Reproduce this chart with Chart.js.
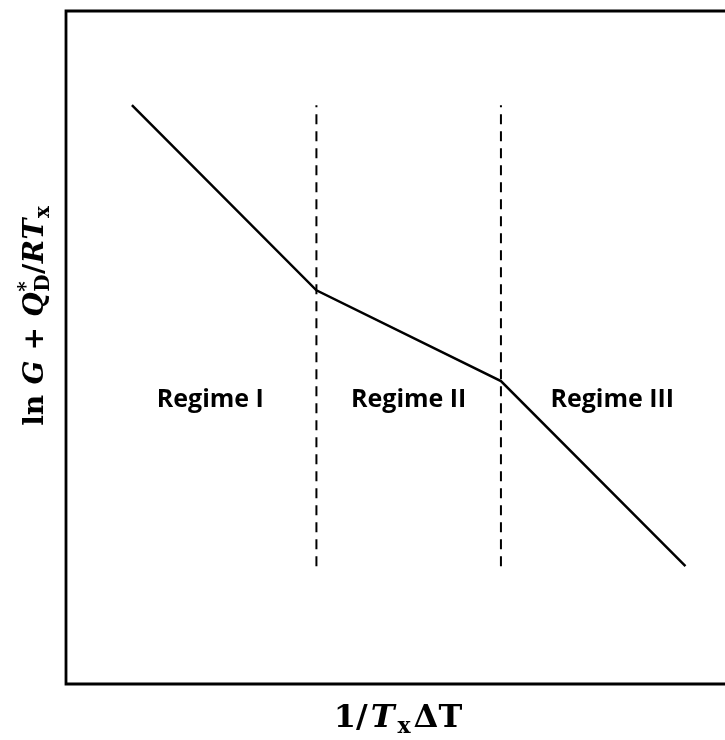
<!DOCTYPE html>
<html>
<head>
<meta charset="utf-8">
<script src="https://cdn.jsdelivr.net/npm/chart.js@4/dist/chart.umd.min.js"></script>
<style>
  html, body { margin: 0; padding: 0; background: #fff; }
  #wrap { width: 725px; height: 740px; position: relative; }
</style>
</head>
<body>
<div id="wrap"><canvas id="c" width="725" height="740"></canvas></div>
<script>
// Piecewise-linear growth curve (arbitrary units)
const curveX = [1.0, 3.8, 6.6, 9.4];
const curveY = [8.6, 5.85, 4.5, 1.75];

// Regime boundaries (dashed verticals)
const boundaryX = [3.8, 6.6];
const boundarySpan = [1.75, 8.6];

// Regime labels
const regimeNames = ['Regime I', 'Regime II', 'Regime III'];
const regimeX = [2.19, 5.2, 8.29];
const regimeY = [4.12, 4.12, 4.12];

// Axis titles, as runs of rich text: [text, italic, role]
const xTitleRuns = [['1/', false, 'n'], ['T', true, 'n'], ['x', false, 'sub'], ['\u0394T', false, 'n']];
const yTitleRuns = [['ln ', false, 'n'], ['G', true, 'n'], [' + ', false, 'n'], ['Q', true, 'n'],
                    ['*', false, 'supsub'], ['/', false, 'n'], ['R', true, 'n'], ['T', true, 'n'], ['x', false, 'sub']];
const supSubLower = 'D';

const SERIF = '"DejaVu Serif", "Liberation Serif", serif';

function fontFor(size, italic) {
  return (italic ? 'italic ' : '') + 'bold ' + size + 'px ' + SERIF;
}

// Draws a run list along the current x axis, centred on centerX, baseline y=0
function drawRuns(ctx, runs, size, centerX, gap) {
  const subSize = Math.round(size * 0.7);
  let total = 0;
  const widths = runs.map(r => {
    let w;
    if (r[2] === 'n') { ctx.font = fontFor(size, r[1]); w = ctx.measureText(r[0]).width; }
    else if (r[2] === 'sub') { ctx.font = fontFor(subSize, r[1]); w = ctx.measureText(r[0]).width; }
    else {
      ctx.font = fontFor(subSize, false);
      w = Math.max(ctx.measureText(r[0]).width, ctx.measureText(supSubLower).width);
    }
    w += gap;
    total += w;
    return w;
  });
  total -= gap;
  let x = centerX - total / 2;
  ctx.textBaseline = 'alphabetic';
  ctx.textAlign = 'left';
  runs.forEach((r, i) => {
    if (r[2] === 'n') {
      ctx.font = fontFor(size, r[1]);
      ctx.fillText(r[0], x, 0);
    } else if (r[2] === 'sub') {
      ctx.font = fontFor(subSize, r[1]);
      ctx.fillText(r[0], x, size * 0.2);
    } else {
      ctx.font = fontFor(subSize, false);
      ctx.fillText(r[0], x, -size * 0.38);
      ctx.fillText(supSubLower, x, size * 0.2);
    }
    x += widths[i];
  });
}

const decorations = {
  id: 'decorations',
  afterDatasetsDraw(chart) {
    const { ctx, chartArea: a, scales } = chart;
    ctx.save();
    // frame: top, left, bottom
    ctx.strokeStyle = '#000';
    ctx.lineWidth = 2.8;
    ctx.beginPath();
    ctx.moveTo(chart.width + 5, a.top);
    ctx.lineTo(a.left, a.top);
    ctx.lineTo(a.left, a.bottom);
    ctx.lineTo(chart.width + 5, a.bottom);
    ctx.stroke();

    // regime labels
    ctx.fillStyle = '#000';
    ctx.font = 'bold 25px "Open Sans", Lato, sans-serif';
    ctx.textAlign = 'center';
    ctx.textBaseline = 'alphabetic';
    regimeNames.forEach((n, i) => {
      ctx.fillText(n, scales.x.getPixelForValue(regimeX[i]), scales.y.getPixelForValue(regimeY[i]));
    });

    // x title
    ctx.save();
    ctx.translate(0, 727);
    drawRuns(ctx, xTitleRuns, 32, 398, 3);
    ctx.restore();

    // y title (rotated)
    ctx.save();
    ctx.translate(43, 316);
    ctx.rotate(-Math.PI / 2);
    drawRuns(ctx, yTitleRuns, 28, 0, 0.5);
    ctx.restore();

    ctx.restore();
  }
};

const datasets = [
  {
    data: curveX.map((x, i) => ({ x, y: curveY[i] })),
    borderColor: '#000',
    borderWidth: 2.5,
    pointRadius: 0,
    showLine: true,
    fill: false,
    tension: 0
  }
];
boundaryX.forEach(bx => {
  datasets.push({
    data: boundarySpan.map(y => ({ x: bx, y })),
    borderColor: '#000',
    borderWidth: 2,
    borderDash: [10, 7],
    pointRadius: 0,
    showLine: true,
    fill: false
  });
});

new Chart(document.getElementById('c'), {
  type: 'scatter',
  data: { datasets },
  options: {
    responsive: false,
    animation: false,
    devicePixelRatio: 1,
    layout: { padding: { left: 66, top: 11, right: 0, bottom: 56 } },
    plugins: { legend: { display: false }, tooltip: { enabled: false } },
    scales: {
      x: { type: 'linear', min: 0, max: 10, display: false },
      y: { type: 'linear', min: 0, max: 10, display: false }
    }
  },
  plugins: [decorations]
});
</script>
</body>
</html>
